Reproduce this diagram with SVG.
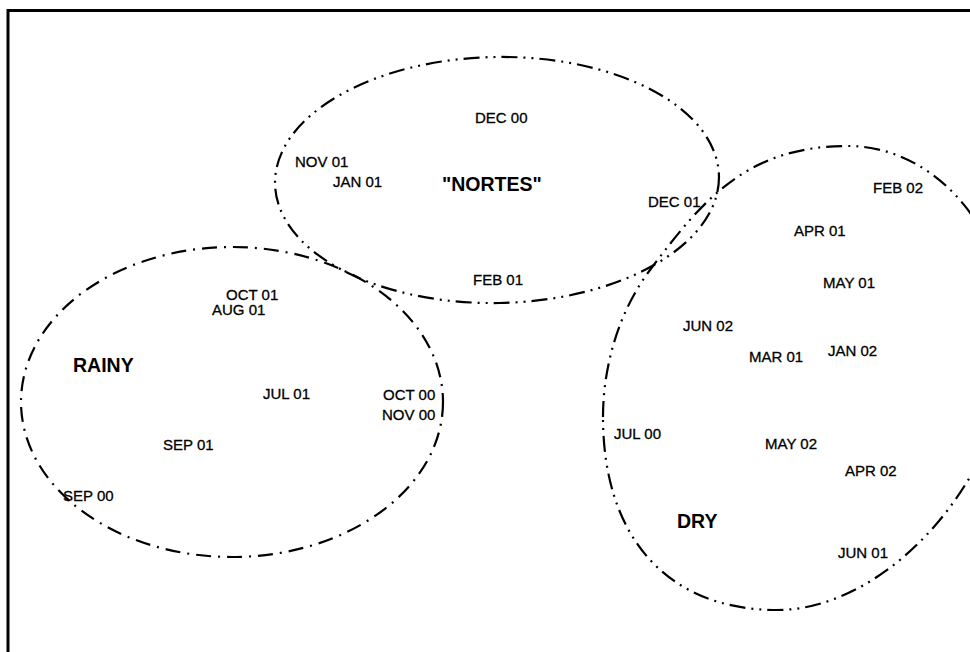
<svg xmlns="http://www.w3.org/2000/svg" width="970" height="652" viewBox="0 0 970 652">
<style>
.lbl{font-family:"Liberation Sans",Arial,sans-serif;font-size:15px;fill:#000;stroke:#000;stroke-width:0.3}
.ttl{font-family:"Liberation Sans",Arial,sans-serif;font-size:19.5px;font-weight:bold;fill:#000}
.clu{fill:none;stroke:#000;stroke-width:2.2}
.dd{stroke-dasharray:16 6 2 6 2 6}
.d1{stroke-dasharray:15 7 2 7}
</style>
<rect width="970" height="652" fill="#fff"/>
<path d="M8,652 V10.5 H970" fill="none" stroke="#000" stroke-width="3"/>
<g id="nortes">
<ellipse class="clu dd" cx="497" cy="180" rx="222" ry="123" transform="rotate(-1 497 180)"/>
<text class="ttl" x="442" y="190.5">"NORTES"</text>
<text class="lbl" x="475" y="122.5">DEC 00</text>
<text class="lbl" x="295" y="167">NOV 01</text>
<text class="lbl" x="333" y="187">JAN 01</text>
<text class="lbl" x="648" y="207">DEC 01</text>
<text class="lbl" x="473" y="285">FEB 01</text>
</g>
<g id="rainy">
<ellipse class="clu d1" cx="232" cy="402" rx="211" ry="155"/>
<text class="ttl" x="73" y="372">RAINY</text>
<text class="lbl" x="226" y="299.5">OCT 01</text>
<text class="lbl" x="212" y="314.5">AUG 01</text>
<text class="lbl" x="263" y="399">JUL 01</text>
<text class="lbl" x="383" y="400">OCT 00</text>
<text class="lbl" x="382" y="420">NOV 00</text>
<text class="lbl" x="163" y="450">SEP 01</text>
<text class="lbl" x="63" y="501">SEP 00</text>
</g>
<g id="dry">
<path class="clu dd" d="M603,417 C603,366 619,311 650,270 C704,198 748,146 848,146 C937,146 1010,233 1010,340 C1010,470 892,610 777,610 C667,610 603,537 603,417 Z"/>
<text class="ttl" x="677" y="528">DRY</text>
<text class="lbl" x="873" y="193">FEB 02</text>
<text class="lbl" x="794" y="236">APR 01</text>
<text class="lbl" x="823" y="288">MAY 01</text>
<text class="lbl" x="683" y="331">JUN 02</text>
<text class="lbl" x="749" y="361.5">MAR 01</text>
<text class="lbl" x="828" y="356">JAN 02</text>
<text class="lbl" x="614" y="439">JUL 00</text>
<text class="lbl" x="765" y="449">MAY 02</text>
<text class="lbl" x="845" y="476">APR 02</text>
<text class="lbl" x="838" y="558">JUN 01</text>
</g>
<g id="connectors"/>
</svg>
